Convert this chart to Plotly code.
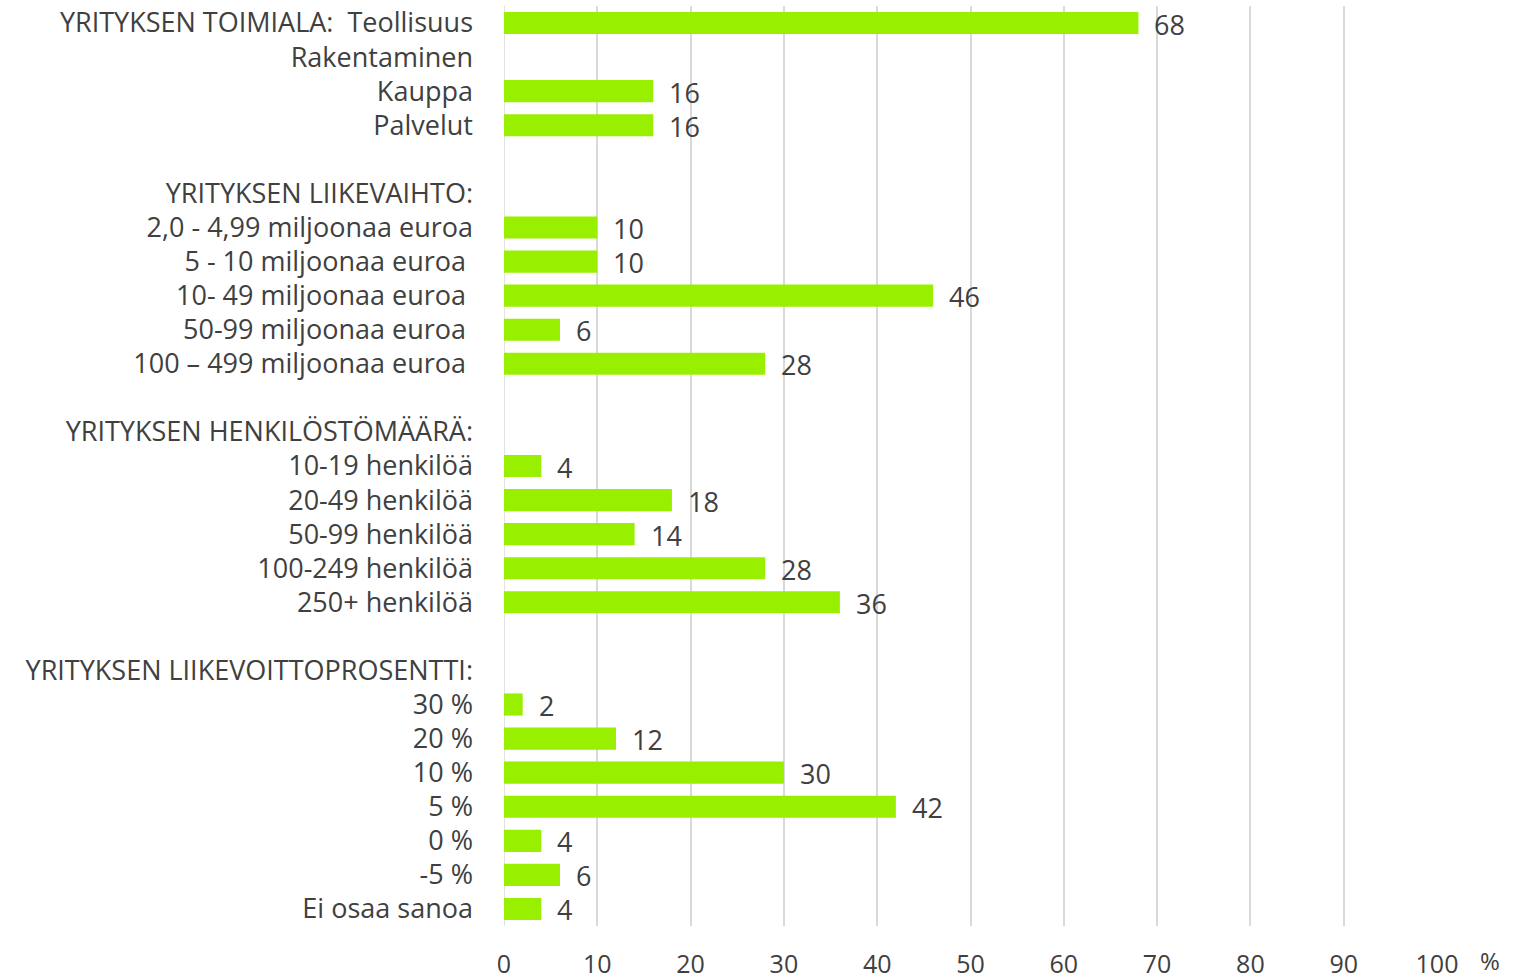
import plotly.graph_objects as go

labels = [
    "YRITYKSEN TOIMIALA:\u00a0 Teollisuus", "Rakentaminen", "Kauppa", "Palvelut", "",
    "YRITYKSEN LIIKEVAIHTO:", "2,0 - 4,99 miljoonaa euroa", "5 - 10 miljoonaa euroa\u00a0",
    "10- 49 miljoonaa euroa\u00a0", "50-99 miljoonaa euroa\u00a0", "100 \u2013 499 miljoonaa euroa\u00a0", "",
    "YRITYKSEN HENKILÖSTÖMÄÄRÄ:", "10-19 henkilöä", "20-49 henkilöä", "50-99 henkilöä",
    "100-249 henkilöä", "250+ henkilöä", "",
    "YRITYKSEN LIIKEVOITTOPROSENTTI:", "30 %", "20 %", "10 %", "5 %", "0 %", "-5 %", "Ei osaa sanoa",
]
values = [68, None, 16, 16, None,
          None, 10, 10, 46, 6, 28, None,
          None, 4, 18, 14, 28, 36, None,
          None, 2, 12, 30, 42, 4, 6, 4]
x_ticks = [0, 10, 20, 30, 40, 50, 60, 70, 80, 90, 100]

n = len(labels)
ypos = [n - 1 - i for i in range(n)]

FONT = "Open Sans"
TXT = "#404040"
GREEN = "#98EF00"

bx = [v for v in values if v is not None]
by = [y for v, y in zip(values, ypos) if v is not None]

fig = go.Figure()
fig.add_trace(go.Bar(
    x=bx, y=by, orientation="h",
    marker=dict(color=GREEN, line=dict(width=0)),
    width=0.65, hoverinfo="skip",
))

for v, y in zip(bx, by):
    fig.add_annotation(x=v, y=y, text=str(v), showarrow=False, xanchor="left",
                       yanchor="middle", xshift=14, yshift=-1,
                       font=dict(family=FONT, size=27, color=TXT))

fig.add_annotation(xref="paper", yref="paper", x=1.0, y=0, xshift=41, yshift=-34,
                   text="%", showarrow=False, xanchor="left", yanchor="middle",
                   font=dict(family=FONT, size=24, color=TXT))

fig.update_layout(
    width=1516, height=980,
    margin=dict(l=504, r=79, t=6, b=54, autoexpand=False),
    paper_bgcolor="white", plot_bgcolor="white",
    showlegend=False,
    font=dict(family=FONT, size=27, color=TXT),
    xaxis=dict(range=[0, 100], tickvals=x_ticks, ticktext=[str(t) for t in x_ticks],
               showgrid=True, gridcolor="#D9D9D9", gridwidth=1.5,
               zeroline=False, showline=False, ticks="", automargin=False,
               ticklabelstandoff=21,
               tickfont=dict(family=FONT, size=25, color=TXT)),
    yaxis=dict(range=[-0.5, n - 0.5], tickvals=ypos, ticktext=labels,
               showgrid=False, zeroline=False, showline=False, ticks="", automargin=False,
               ticklabelstandoff=30,
               tickfont=dict(family=FONT, size=27, color=TXT)),
)
fig.add_shape(type="line", xref="x", yref="paper", x0=0, x1=0, y0=0, y1=1,
              line=dict(color="#D9D9D9", width=1.5), layer="below")

fig.write_html("out.html", config={"displayModeBar": False},
               post_script="document.body.style.margin='0';document.body.style.overflow='hidden';")
